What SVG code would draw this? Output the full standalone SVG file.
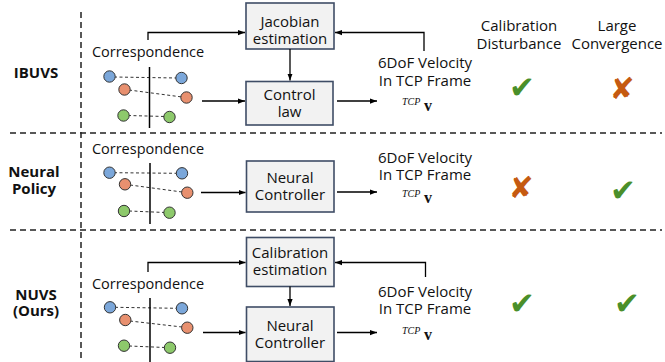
<svg xmlns="http://www.w3.org/2000/svg" width="665" height="362" viewBox="0 0 665 362">
<defs>
<marker id="ah" viewBox="0 0 8 8" refX="8" refY="4" markerWidth="7" markerHeight="7" markerUnits="userSpaceOnUse" orient="auto">
<path d="M0,1 L8,4 L0,7 z" fill="#000"/>
</marker>
<style>
.sep{stroke:#222;stroke-width:1.5;stroke-dasharray:6 4;fill:none}
.box{fill:#f2f2f2;stroke:#3f4d66;stroke-width:1.6}
.t{font-family:"Open Sans","Noto Sans","DejaVu Sans",sans-serif;font-size:14.5px;fill:#111;text-anchor:middle}
.m{font-size:15px}
.lab{font-family:"Open Sans","Noto Sans","DejaVu Sans",sans-serif;font-size:15px;font-weight:bold;fill:#111;text-anchor:middle}
.arr{stroke:#000;stroke-width:1.3;fill:none;marker-end:url(#ah)}
.cd{stroke:#333;stroke-width:1;stroke-dasharray:3 2.5;fill:none}
.bar{stroke:#000;stroke-width:1.5}
.cb{fill:#7ba7da;stroke:#333;stroke-width:1}
.co{fill:#e8906f;stroke:#333;stroke-width:1}
.cg{fill:#8dc96b;stroke:#333;stroke-width:1}
.sup{font-family:"Liberation Serif",serif;font-style:italic;font-size:10px;fill:#111}
.vv{font-family:"Liberation Serif",serif;font-weight:bold;font-size:16px;fill:#111}
.ok{font-family:"DejaVu Sans",sans-serif;font-size:31px;fill:#4a8f2a;text-anchor:middle}
.no{font-family:"DejaVu Sans",sans-serif;font-size:30px;fill:#c55a11;text-anchor:middle}
</style>
</defs>

<g id="separators">
<line class="sep" x1="81" y1="12" x2="81" y2="362"/>
<line class="sep" x1="10" y1="133" x2="662" y2="133"/>
<line class="sep" x1="10" y1="230" x2="662" y2="230"/>
</g>

<g id="headers">
<text class="t m" x="519" y="31">Calibration</text>
<text class="t m" x="519" y="49">Disturbance</text>
<text class="t m" x="617" y="31">Large</text>
<text class="t m" x="617" y="49">Convergence</text>
</g>

<!-- Row 1 -->
<g id="row1-label"><text class="lab" x="36" y="78">IBUVS</text></g>
<g id="row1-corr">
<text class="t" x="148" y="57">Correspondence</text>
<line class="cd" x1="114" y1="77" x2="177" y2="78"/>
<line class="cd" x1="129" y1="90" x2="182" y2="97"/>
<line class="cd" x1="128" y1="115.5" x2="165" y2="116.5"/>
<line class="bar" x1="149.5" y1="67" x2="149.5" y2="128"/>
<circle class="cb" cx="109.5" cy="76.5" r="5.7"/>
<circle class="cb" cx="181.5" cy="78" r="5.7"/>
<circle class="co" cx="124.5" cy="89.5" r="5.7"/>
<circle class="co" cx="186.5" cy="97.5" r="5.7"/>
<circle class="cg" cx="123.5" cy="115.5" r="5.7"/>
<circle class="cg" cx="169.5" cy="117" r="5.7"/>
</g>
<g id="jacobian"><rect class="box" x="246" y="3" width="88" height="46"/>
<text class="t m" x="290" y="27">Jacobian</text>
<text class="t m" x="290" y="44">estimation</text></g>
<g id="controllaw"><rect class="box" x="246" y="81.5" width="87" height="43.5"/>
<text class="t m" x="289.5" y="100">Control</text>
<text class="t m" x="289.5" y="117">law</text></g>
<g id="row1-out">
<text class="t m" x="425" y="68">6DoF Velocity</text>
<text class="t m" x="425" y="86">In TCP Frame</text>
<text class="sup" x="402" y="105">TCP</text>
<text class="vv" x="424" y="111">v</text>
</g>
<g id="row1-marks">
<text class="ok" x="522" y="98">✔</text>
<text class="no" x="622" y="99">✘</text>
</g>

<!-- Row 2 -->
<g id="row2-label"><text class="lab" x="34" y="177">Neural</text><text class="lab" x="34" y="194">Policy</text></g>
<g id="row2-corr">
<text class="t" x="148" y="154">Correspondence</text>
<line class="cd" x1="114" y1="172.7" x2="177" y2="173.3"/>
<line class="cd" x1="130" y1="185" x2="182" y2="192"/>
<line class="cd" x1="129" y1="211" x2="165" y2="212.5"/>
<line class="bar" x1="150" y1="163" x2="150" y2="224"/>
<circle class="cb" cx="109.5" cy="172.7" r="5.7"/>
<circle class="cb" cx="182" cy="173.3" r="5.7"/>
<circle class="co" cx="125" cy="184.3" r="5.7"/>
<circle class="co" cx="187.3" cy="192.7" r="5.7"/>
<circle class="cg" cx="124" cy="211" r="5.7"/>
<circle class="cg" cx="169.5" cy="212.7" r="5.7"/>
</g>
<g id="neural1"><rect class="box" x="246.5" y="161" width="87.5" height="51"/>
<text class="t m" x="290" y="183">Neural</text>
<text class="t m" x="290" y="200">Controller</text></g>
<g id="row2-out">
<text class="t m" x="425" y="163">6DoF Velocity</text>
<text class="t m" x="425" y="180">In TCP Frame</text>
<text class="sup" x="402" y="197">TCP</text>
<text class="vv" x="424" y="203">v</text>
</g>
<g id="row2-marks">
<text class="no" x="521" y="198">✘</text>
<text class="ok" x="623" y="201">✔</text>
</g>

<!-- Row 3 -->
<g id="row3-label"><text class="lab" x="36" y="300">NUVS</text><text class="lab" x="36" y="316">(Ours)</text></g>
<g id="row3-corr">
<text class="t" x="148" y="289">Correspondence</text>
<line class="cd" x1="115" y1="307.3" x2="177" y2="308.3"/>
<line class="cd" x1="130" y1="321" x2="182" y2="327"/>
<line class="cd" x1="129" y1="346" x2="165" y2="347.5"/>
<line class="bar" x1="150" y1="298" x2="150" y2="362"/>
<circle class="cb" cx="110" cy="307.3" r="5.7"/>
<circle class="cb" cx="182" cy="308.3" r="5.7"/>
<circle class="co" cx="125.3" cy="320" r="5.7"/>
<circle class="co" cx="187.3" cy="327.7" r="5.7"/>
<circle class="cg" cx="124" cy="345.7" r="5.7"/>
<circle class="cg" cx="170" cy="347.7" r="5.7"/>
</g>
<g id="calibration"><rect class="box" x="246.5" y="237.5" width="87.5" height="49"/>
<text class="t m" x="290" y="258">Calibration</text>
<text class="t m" x="290" y="275">estimation</text></g>
<g id="neural2"><rect class="box" x="246.5" y="307" width="87.5" height="54.5"/>
<text class="t m" x="290" y="331">Neural</text>
<text class="t m" x="290" y="348">Controller</text></g>
<g id="row3-out">
<text class="t m" x="425" y="297">6DoF Velocity</text>
<text class="t m" x="425" y="314">In TCP Frame</text>
<text class="sup" x="402" y="334">TCP</text>
<text class="vv" x="424" y="340">v</text>
</g>
<g id="row3-marks">
<text class="ok" x="522" y="314">✔</text>
<text class="ok" x="627" y="314">✔</text>
</g>

<g id="connectors">
<polyline class="arr" points="148,40 148,32.5 245,32.5"/>
<polyline class="arr" points="424,51 424,32.5 335,32.5"/>
<line class="arr" x1="290" y1="49" x2="290" y2="80.5"/>
<line class="arr" x1="202" y1="101" x2="245" y2="101"/>
<line class="arr" x1="337" y1="101" x2="377" y2="101"/>

<line class="arr" x1="201" y1="192.5" x2="245.5" y2="192.5"/>
<line class="arr" x1="337" y1="192" x2="377" y2="192"/>

<polyline class="arr" points="148,272 148,262.5 245.5,262.5"/>
<polyline class="arr" points="425.5,277 425.5,262.5 335,262.5"/>
<line class="arr" x1="290" y1="286.5" x2="290" y2="306"/>
<line class="arr" x1="203" y1="332.5" x2="245.5" y2="332.5"/>
<line class="arr" x1="337" y1="332.5" x2="377" y2="332.5"/>
</g>
</svg>
